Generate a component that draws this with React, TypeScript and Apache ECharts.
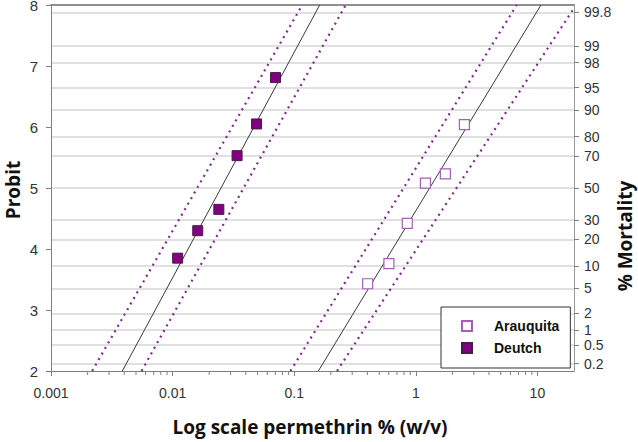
import { useEffect, useRef } from 'react';
import * as echarts from 'echarts';

// Observed mortality of each population: [permethrin % (w/v), probit]
const arauquitaPoints = [
  [0.402, 3.43],
  [0.601, 3.76],
  [0.851, 4.42],
  [1.2, 5.08],
  [1.75, 5.23],
  [2.51, 6.04],
];
const deutchPoints = [
  [0.011, 3.85],
  [0.0161, 4.3],
  [0.024, 4.65],
  [0.0339, 5.53],
  [0.049, 6.05],
  [0.0702, 6.81],
];

// Fitted probit lines and their confidence limits, as end points
const arauquitaFit = [[0.158, 2], [10.7, 8]];
const arauquitaLower = [[0.0931, 2], [6.76, 8]];
const arauquitaUpper = [[0.225, 2], [20, 7.95]];
const deutchFit = [[0.00386, 2], [0.162, 8]];
const deutchLower = [[0.00218, 2], [0.1164, 8]];
const deutchUpper = [[0.00556, 2], [0.265, 8]];

// Axis ticks
const xTickLabels = ['0.001', '0.01', '0.1', '1', '10'];
const xDecades = [0.001, 0.01, 0.1, 1, 10];
const minorMultipliers = [2, 3, 4, 5, 6, 7, 8, 9];
const mortalityLabels = ['0.2', '0.5', '1', '2', '5', '10', '20', '30', '50', '70', '80', '90', '95', '98', '99', '99.8'];
const mortalityProbits = [2.122, 2.424, 2.674, 2.946, 3.355, 3.718, 4.158, 4.476, 5, 5.524, 5.842, 6.282, 6.645, 7.054, 7.326, 7.878];

const X_MIN = 0.001;
const X_MAX = 20;

const minorTickValues = xDecades
  .flatMap((d) => minorMultipliers.map((m) => +(m * d).toPrecision(6)))
  .filter((v) => v < X_MAX);

const AXIS_GREY = '#7f7f7f';
const DOT_PURPLE = '#7d2b8c';
const TICK_FONT = 'Liberation Sans';
const TITLE_FONT = 'Open Sans';

const bandStyle = { color: DOT_PURPLE, width: 2.2, type: [2, 4.4] as number[], cap: 'butt' as const };
const fitStyle = { color: '#3a3a3a', width: 1, type: 'solid' as const };

function lineSeries(name: string, data: number[][], style: object) {
  return {
    type: 'line',
    name,
    data,
    showSymbol: false,
    symbol: 'none',
    lineStyle: style,
    silent: true,
    clip: true,
    z: 2,
  };
}

function titleText(text: string, x: number, y: number, rotation: number) {
  return {
    type: 'text',
    x,
    y,
    rotation,
    style: {
      text,
      fontFamily: TITLE_FONT,
      fontWeight: 'bold',
      fontSize: 19,
      fill: '#111111',
      align: 'center',
      verticalAlign: 'middle',
    },
  };
}

export default function App() {
  const ref = useRef<HTMLDivElement>(null);

  useEffect(() => {
    if (!ref.current) return;
    const chart = echarts.init(ref.current, null, { renderer: 'svg' });

    const option = {
      animation: false,
      backgroundColor: '#ffffff',
      grid: { left: 51, right: 64, top: 5, bottom: 71, outerBoundsMode: 'none' },
      xAxis: [
        {
          type: 'log',
          logBase: 10,
          min: X_MIN,
          max: X_MAX,
          axisLine: { show: true, lineStyle: { color: AXIS_GREY, width: 1 } },
          axisTick: { show: true, length: 5, lineStyle: { color: AXIS_GREY } },
          axisLabel: {
            show: true,
            showMaxLabel: false,
            margin: 15,
            fontFamily: TICK_FONT,
            fontSize: 14,
            color: '#333333',
            formatter: (v: number) => {
              const e = Math.log10(v);
              if (Math.abs(e - Math.round(e)) > 1e-6) return '';
              return xTickLabels[Math.round(e) + 3] ?? '';
            },
          },
          splitLine: { show: false },
          minorTick: { show: false },
        },
        {
          type: 'log',
          logBase: 10,
          min: X_MIN,
          max: X_MAX,
          position: 'top',
          axisLine: { show: true, lineStyle: { color: '#8f8f8f', width: 2 } },
          axisTick: { show: false },
          axisLabel: { show: false },
          splitLine: { show: false },
        },
      ],
      yAxis: [
        {
          type: 'value',
          position: 'left',
          min: 2,
          max: 8,
          interval: 1,
          axisLine: { show: true, lineStyle: { color: AXIS_GREY, width: 1 } },
          axisTick: { show: true, length: 5, lineStyle: { color: AXIS_GREY } },
          axisLabel: { margin: 13, fontFamily: TICK_FONT, fontSize: 15, color: '#333333' },
          splitLine: { show: false },
        },
        {
          type: 'value',
          position: 'right',
          min: 2,
          max: 8,
          axisLine: { show: true, lineStyle: { color: '#9a9a9a', width: 1 } },
          axisTick: {
            show: true,
            length: 5,
            customValues: mortalityProbits,
            lineStyle: { color: AXIS_GREY },
          },
          axisLabel: {
            margin: 10,
            fontFamily: TICK_FONT,
            fontSize: 14,
            color: '#333333',
            customValues: mortalityProbits,
            formatter: (v: number) => {
              const i = mortalityProbits.findIndex((p) => Math.abs(p - v) < 1e-6);
              return i >= 0 ? mortalityLabels[i] : '';
            },
          },
          splitLine: { show: true, lineStyle: { color: '#d6d6d6', width: 1.5 } },
        },
      ],
      legend: {
        data: ['Arauquita', 'Deutch'],
        orient: 'vertical',
        left: 441,
        top: 307,
        padding: [12, 11, 13, 20],
        itemWidth: 10,
        itemHeight: 10,
        itemGap: 8,
        backgroundColor: '#ffffff',
        borderColor: '#333333',
        borderWidth: 1,
        borderRadius: 0,
        selectedMode: false,
        textStyle: {
          fontFamily: 'Liberation Sans',
          fontWeight: 'bold',
          fontSize: 14,
          color: '#111111',
          padding: [0, 0, 0, 17],
        },
      },
      series: [
        lineSeries('Arauquita fit', arauquitaFit, fitStyle),
        lineSeries('Arauquita lower', arauquitaLower, bandStyle),
        lineSeries('Arauquita upper', arauquitaUpper, bandStyle),
        lineSeries('Deutch fit', deutchFit, fitStyle),
        lineSeries('Deutch lower', deutchLower, bandStyle),
        lineSeries('Deutch upper', deutchUpper, bandStyle),
        {
          type: 'scatter',
          name: 'Arauquita',
          data: arauquitaPoints,
          symbol: 'rect',
          symbolSize: 10,
          itemStyle: { color: '#ffffff', borderColor: '#a35fb6', borderWidth: 1.2, opacity: 1 },
          z: 4,
        },
        {
          type: 'scatter',
          name: 'Deutch',
          data: deutchPoints,
          symbol: 'rect',
          symbolSize: 10,
          itemStyle: { color: '#800080', borderColor: '#4a1a4a', borderWidth: 1, opacity: 1 },
          z: 4,
        },
        {
          type: 'custom',
          name: 'minor ticks',
          data: minorTickValues.map((v) => [v, 2]),
          clip: false,
          silent: true,
          z: 1,
          renderItem: (_params: unknown, api: any) => {
            const p = api.coord([api.value(0), api.value(1)]);
            return {
              type: 'line',
              shape: { x1: p[0], y1: p[1], x2: p[0], y2: p[1] + 4 },
              style: { stroke: AXIS_GREY, lineWidth: 1 },
            };
          },
        },
      ],
      graphic: [
        titleText('Probit', 13, 190, Math.PI / 2),
        titleText('% Mortality', 625, 236, Math.PI / 2),
        titleText('Log scale permethrin % (w/v)', 310, 427, 0),
      ],
    };

    chart.setOption(option as any);
    return () => chart.dispose();
  }, []);

  return (
    <div
      ref={ref}
      style={{ position: 'fixed', left: 0, top: 0, width: 638, height: 442 }}
    />
  );
}
